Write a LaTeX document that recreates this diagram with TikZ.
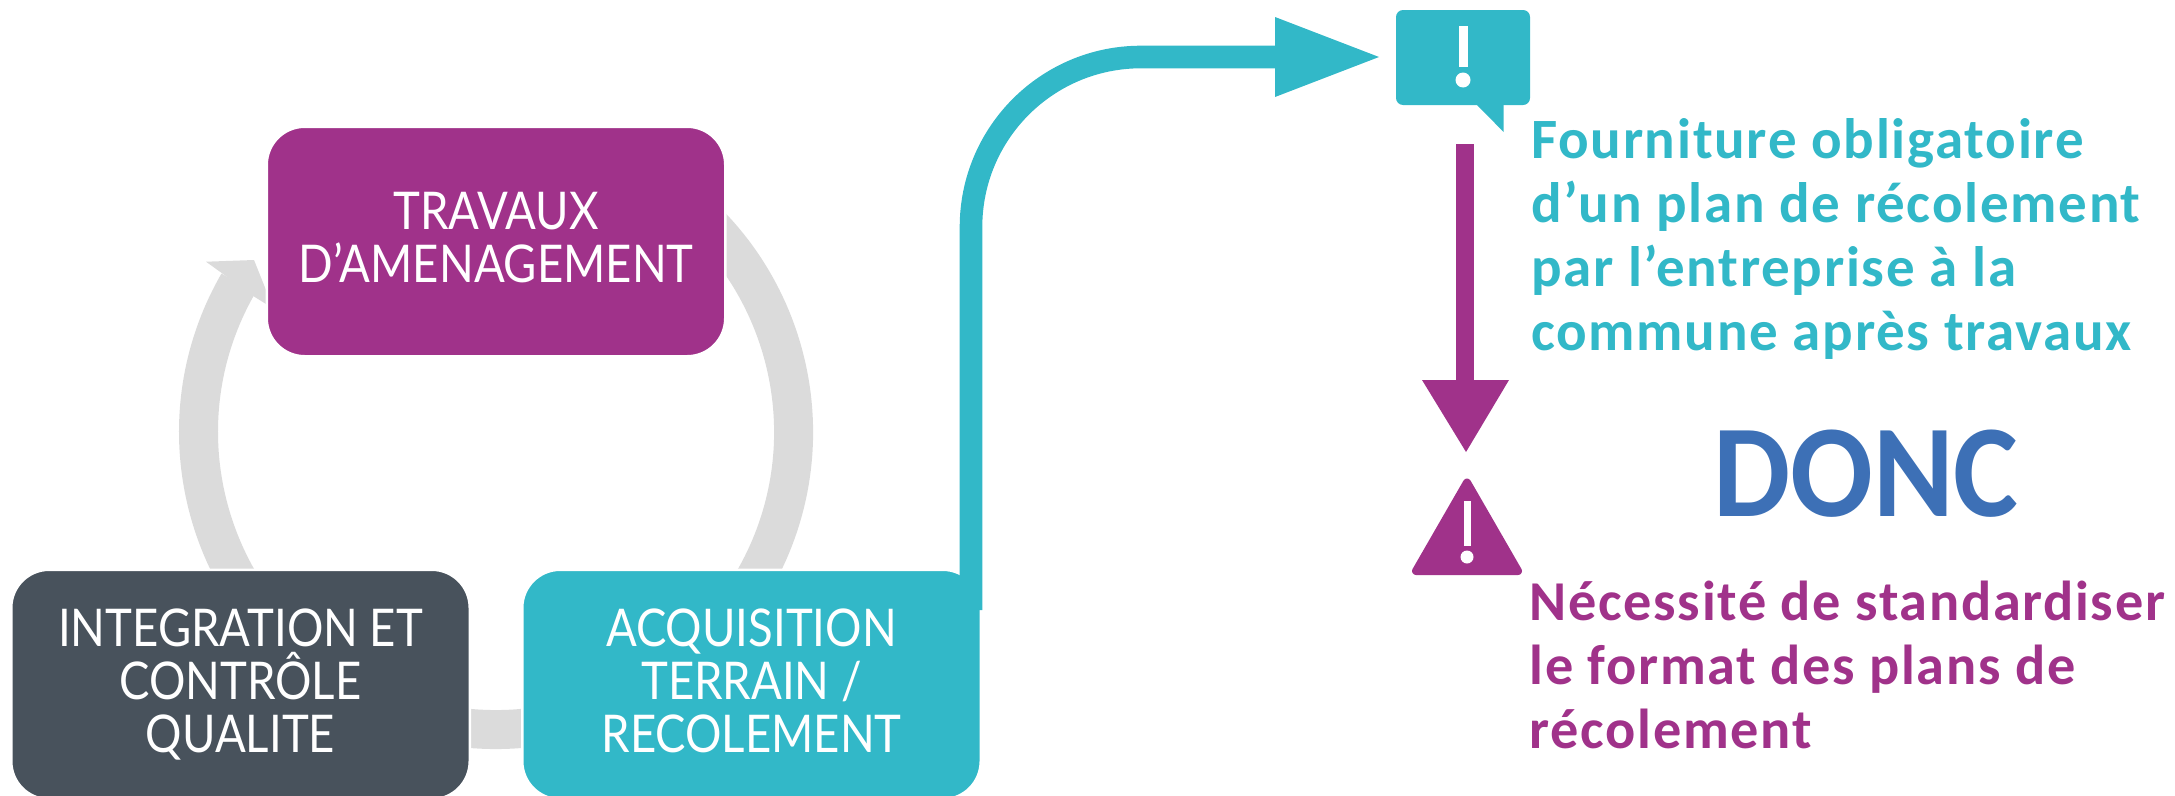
\documentclass[tikz,border=0pt]{standalone}
\usepackage{fontspec}
\setmainfont{Lato}
\newfontfamily\boxfont[FakeStretch=0.875]{Lato}
\newfontfamily\sidefont[LetterSpace=3]{Carlito Bold}
\newfontfamily\doncfont[FakeStretch=0.928]{Carlito Bold}
\definecolor{cpurple}{HTML}{A0328A}
\definecolor{cteal}{HTML}{32B8C8}
\definecolor{cslate}{HTML}{48525C}
\definecolor{cring}{HTML}{DBDBDB}
\definecolor{cblue}{HTML}{3D70B6}
\tikzset{
  x=1pt,y=-1pt,
  phase/.style={rounded corners=38pt,draw=white,line width=2.5pt,minimum width=458.5pt,minimum height=229.5pt,inner sep=0pt,text=white,align=center,font=\boxfont\fontsize{52}{53}\selectfont},
  sidetext/.style={anchor=base west,inner sep=0pt,align=left},
  ringline/.style={draw=cring,line width=39pt},
}
\begin{document}
\begin{tikzpicture}
\useasboundingbox (0,0) rectangle (2175,795);
% ring
\draw[ringline] (238.4,283.25) arc[start angle=210,end angle=-60,radius=297.5];
\fill[cring] (206,261.7) -- (254,260) -- (266,290) -- (266,304) -- (252.7,295.7) -- (221.7,273) -- cycle;
% boxes
\node[phase,fill=cpurple] (trav) at (496,241.5) {TRAVAUX\\D’AMENAGEMENT\vphantom{Q}};
\node[phase,fill=cslate] (integ) at (240.5,684.5) {INTEGRATION ET\\CONTRÔLE\\QUALITE};
\node[phase,fill=cteal] (acq) at (751.5,684.5) {ACQUISITION\\TERRAIN /\\RECOLEMENT\vphantom{Q}};
% teal connector
\coordinate (tstart) at (971,610);
\coordinate (theadbase) at (1275,57);
\coordinate (ttip) at (1379,57);
\draw[cteal,line width=22.6pt] (tstart) -- (971,227) arc[start angle=180,end angle=270,radius=170] -- (theadbase);
\fill[cteal] (1275,17) -- (ttip) -- (1275,97) -- cycle;
% callout
\node[fill=cteal,rounded corners=7pt,minimum width=134pt,minimum height=95pt,inner sep=0pt] (callout) at (1463,57.5) {};
\fill[cteal] (1476,104) -- (1503.6,132) -- (1503.6,104) -- cycle;
\fill[white] (1458.5,25.7) rectangle (1468,66.7);
\fill[white] (1463,80) circle[radius=7.5];
% purple connector
\coordinate (pstart) at (1465.2,144);
\coordinate (pbase) at (1465.2,381);
\coordinate (ptip) at (1466,452);
\draw[cpurple,line width=18.5pt] (pstart) -- (pbase);
\fill[cpurple] (1422,380) -- (1509,380) -- (ptip) -- cycle;
% warning
\filldraw[cpurple,line width=8pt,line join=round] (1467,482.5) -- (1518,571) -- (1416,571) -- cycle;
\fill[white] (1463.5,501) rectangle (1471,546);
\fill[white] (1467,557) circle[radius=6.5];
% texts
\node[sidetext,text=cteal,font=\sidefont\fontsize{57}{64}\selectfont] (t1) at (1531,350) {Fourniture obligatoire\\d’un plan de récolement\\par l’entreprise à la\\commune après travaux};
\node[anchor=base,inner sep=0pt,text=cblue,font=\doncfont\fontsize{132}{132}\selectfont] (donc) at (1866,516) {DONC};
\node[sidetext,text=cpurple,font=\sidefont\fontsize{56.3}{64}\selectfont] (t2) at (1529.5,748) {Nécessité de standardiser\\le format des plans de\\récolement};
\end{tikzpicture}
\end{document}
